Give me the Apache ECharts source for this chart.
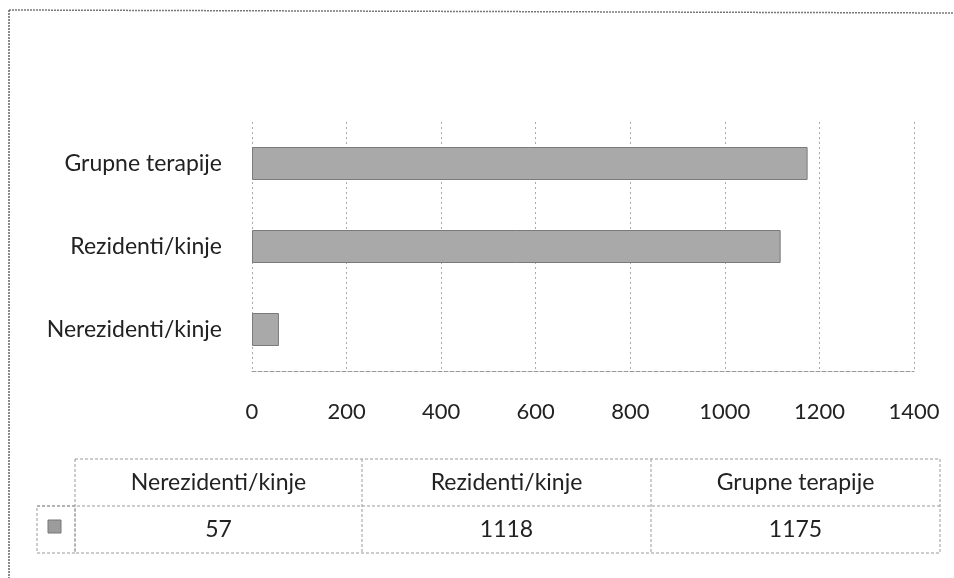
<!DOCTYPE html>
<html>
<head>
<meta charset="utf-8">
<script src="https://cdn.jsdelivr.net/npm/echarts@6/dist/echarts.min.js"></script>
<style>
  html, body { margin: 0; padding: 0; background: #fff; }
  #chart { width: 954px; height: 578px; }
</style>
</head>
<body>
<div id="chart"></div>
<script>
// podaci
const categories = ["Nerezidenti/kinje", "Rezidenti/kinje", "Grupne terapije"];
const values = [57, 1118, 1175];
const xTicks = [0, 200, 400, 600, 800, 1000, 1200, 1400];

const font = "Lato";
const barColor = "#a9a9a9";
const lineColor = "#9a9a9a";

const chart = echarts.init(document.getElementById("chart"));

// tablica ispod grafa (kao u Excelu)
const tblLeft = 75, tblRight = 940, tblTop = 459, rowH = 47;
const colEdges = [75, 362, 651, 940];
const table = [];
const dash = { stroke: lineColor, lineWidth: 1, lineDash: [3, 2] };
// okvir zaglavlja i redka s vrijednostima
table.push({ type: "rect", shape: { x: tblLeft, y: tblTop, width: tblRight - tblLeft, height: rowH * 2 }, style: Object.assign({ fill: null }, dash) });
table.push({ type: "line", shape: { x1: 37, y1: tblTop + rowH, x2: tblRight, y2: tblTop + rowH }, style: dash });
table.push({ type: "rect", shape: { x: 37, y: tblTop + rowH, width: tblLeft - 37, height: rowH }, style: Object.assign({ fill: null }, dash) });
table.push({ type: "rect", shape: { x: 48, y: tblTop + rowH + 14, width: 13, height: 13 }, style: { fill: "#9c9c9c", stroke: "#777", lineWidth: 1 } });
categories.forEach((c, i) => {
  const cx = (colEdges[i] + colEdges[i + 1]) / 2;
  if (i > 0) {
    table.push({ type: "line", shape: { x1: colEdges[i], y1: tblTop, x2: colEdges[i], y2: tblTop + rowH * 2 }, style: dash });
  }
  table.push({ type: "text", x: cx, y: tblTop + rowH / 2, style: { text: c, fill: "#222", font: "23px " + font, align: "center", verticalAlign: "middle" } });
  table.push({ type: "text", x: cx, y: tblTop + rowH * 1.5, style: { text: String(values[i]), fill: "#222", font: "23px " + font, align: "center", verticalAlign: "middle" } });
});
// vanjski okvir (skenirano)
table.push({ type: "line", shape: { x1: 9, y1: 10, x2: 954, y2: 13 }, style: { stroke: "#777", lineWidth: 1.5, lineDash: [2, 1] } });
table.push({ type: "line", shape: { x1: 9, y1: 10, x2: 9, y2: 578 }, style: { stroke: "#666", lineWidth: 1.5, lineDash: [2, 1] } });

chart.setOption({
  animation: false,
  backgroundColor: "#fff",
  grid: { left: 252, right: 40, top: 122, bottom: 207, containLabel: false },
  xAxis: {
    type: "value",
    min: 0,
    max: 1400,
    interval: 200,
    axisLine: { show: true, lineStyle: { color: "#999", type: [4, 2], width: 1 } },
    axisTick: { show: false },
    axisLabel: {
      margin: 30,
      color: "#222",
      fontFamily: font,
      fontSize: 22,
      formatter: v => (xTicks.includes(v) ? String(v) : "")
    },
    splitLine: { show: true, lineStyle: { color: "#aaa", type: [2, 3], width: 1 } }
  },
  yAxis: {
    type: "category",
    data: categories,
    axisLine: { show: false },
    axisTick: { show: false },
    axisLabel: { margin: 30, color: "#222", fontFamily: font, fontSize: 23 },
    splitLine: { show: false }
  },
  series: [
    {
      type: "bar",
      data: values,
      barWidth: 33,
      itemStyle: { color: barColor, borderColor: "#7a7a7a", borderWidth: 1 }
    }
  ],
  graphic: table
});
</script>
</body>
</html>
